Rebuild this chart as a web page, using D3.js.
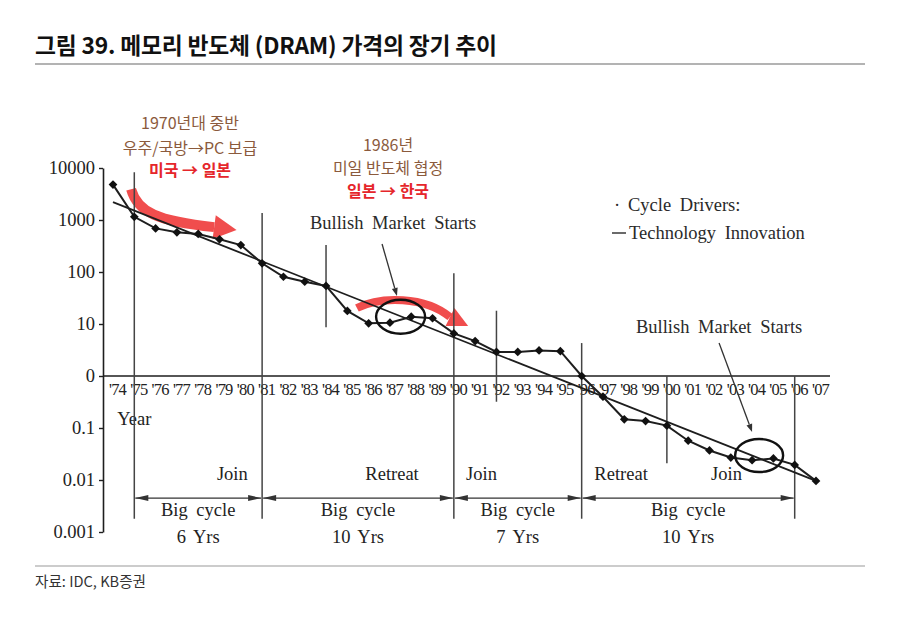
<!DOCTYPE html>
<html><head><meta charset="utf-8">
<script src="https://cdn.jsdelivr.net/npm/d3@7"></script>
<style>body{margin:0;background:#fff;} svg{display:block;}</style>
</head><body><svg id="c" width="900" height="623"></svg>
<script>
// ---------- data ----------
const years = [1974,1975,1976,1977,1978,1979,1980,1981,1982,1983,1984,1985,1986,1987,1988,1989,1990,
               1991,1992,1993,1994,1995,1996,1997,1998,1999,2000,2001,2002,2003,2004,2005,2006,2007];
const xLabels = ["'74","'75","'76","'77","'78","'79","'80","'81","'82","'83","'84","'85","'86","'87","'88","'89","'90",
                 "'91","'92","'93","'94","'95","'96","'97","'98","'99","'00","'01","'02","'03","'04","'05","'06","'07"];
const prices = [4800,1150,690,580,540,425,330,147,81,65,54,17.8,10.3,10.6,13.8,12.9,6.6,
                4.7,2.9,2.9,3.1,3.0,1.0,0.40,0.147,0.136,0.111,0.057,0.037,0.027,0.024,0.026,0.0195,0.0096];
const trendYears = [1974, 2007];
const trendValues = [2200, 0.0096];
const yTickValues = [10000,1000,100,10,1,0.1,0.01,0.001];
const yTickLabels = ["10000","1000","100","10","0","0.1","0.01","0.001"];
// vertical cycle lines: year, top value, bottom value
const cycleLineYears = [1975,1981,1984,1990,1992,1996,2000,2006];
const cycleLineTops  = [8300,1360,330,95,18,4.3,1.0,1.0];
const cycleLineBots  = [0.0018,0.0018,8.7,0.0018,0.32,0.0018,0.021,0.0018];
// big cycles
const cycleStarts = [1975,1981,1990,1996];
const cycleEnds   = [1981,1990,1996,2006];
const cycleYrs    = ["6 Yrs","10 Yrs","7 Yrs","10 Yrs"];
// phase labels
const phaseNames = ["Join","Retreat","Join","Retreat","Join"];
const phaseYears = [1979.6,1987.1,1991.3,1997.85,2002.8];

const title = "그림 39. 메모리 반도체 (DRAM) 가격의 장기 추이";
const source = "자료: IDC, KB증권";

// ---------- setup ----------
const svg = d3.select("#c");
const serif = "'Liberation Serif','Times New Roman',serif";
const kr = "'Noto Sans CJK KR','Noto Sans',sans-serif";
const ink = "#1e1e1e";

const x = d3.scaleLinear().domain([1974,2007]).range([113,816]);
const y = d3.scaleLog().domain([0.001,10000]).range([532,168]);
const axisX = 103;

// title & rules
svg.append("text").attr("x",35).attr("y",54).text(title)
  .attr("font-family",kr).attr("font-weight",700).attr("font-size",22.8).attr("letter-spacing","-0.2px").attr("fill","#111");
svg.append("line").attr("x1",35).attr("x2",865).attr("y1",64).attr("y2",64)
  .attr("stroke","#9a9a9a").attr("stroke-width",1.5);
svg.append("line").attr("x1",35).attr("x2",865).attr("y1",566).attr("y2",566)
  .attr("stroke","#9a9a9a").attr("stroke-width",1.2);
svg.append("text").attr("x",35).attr("y",587).text(source)
  .attr("font-family",kr).attr("font-size",14.6).attr("fill","#333");

const g = svg.append("g");

// ---------- red arrows (beneath) ----------
function redArrow(pts, tip, hw, sw){
  const P = pts.map(p=>[x(p[0]), y(p[1])]);
  const T = [x(tip[0]), y(tip[1])];
  const last = P[P.length-1];
  const dx = T[0]-last[0], dy = T[1]-last[1], L = Math.hypot(dx,dy);
  const ux = dx/L, uy = dy/L;
  const grp = g.append("g").attr("opacity",0.88);
  grp.append("path")
    .attr("d", `M${P[0]}C${P[1]} ${P[2]} ${P[3]}`)
    .attr("fill","none").attr("stroke","#ef3535").attr("stroke-width",sw);
  const b1 = [last[0]-uy*hw, last[1]+ux*hw], b2 = [last[0]+uy*hw, last[1]-ux*hw];
  grp.append("path").attr("d",`M${b1}L${T}L${b2}Z`).attr("fill","#ef3535");
}
redArrow([[1974.85,3900],[1975.15,1400],[1976.1,950],[1978.75,730]],[1979.8,640],12,10);
redArrow([[1985.45,20.3],[1986.55,34.5],[1988.65,34.5],[1989.82,13.6]],[1990.67,9.15],10,8);

// ---------- axes ----------
const yAxis = g.append("g").attr("transform",`translate(${axisX},0)`)
  .call(d3.axisLeft(y).tickValues(yTickValues).tickFormat((d,i)=>yTickLabels[i])
        .tickSize(4).tickSizeOuter(0).tickPadding(4));
yAxis.select(".domain").attr("stroke",ink).attr("stroke-width",1.6);
yAxis.selectAll(".tick line").attr("stroke",ink).attr("stroke-width",1.4);
yAxis.selectAll("text").attr("font-family",serif).attr("font-size",18.5).attr("fill","#222");

const xAxis = g.append("g").attr("transform",`translate(0,${y(1)})`)
  .call(d3.axisBottom(x).tickValues(years).tickFormat((d,i)=>xLabels[i]).tickSize(0).tickPadding(7));
xAxis.select(".domain").remove();
xAxis.append("line").attr("x1",axisX).attr("x2",x(2007)+14).attr("y1",0).attr("y2",0)
  .attr("stroke",ink).attr("stroke-width",1.4);
xAxis.selectAll("text").attr("dx",4).attr("font-family",serif).attr("font-size",16.5)
  .attr("letter-spacing","-0.8px").attr("fill","#222");

g.append("text").attr("x",x(1975)).attr("y",425).attr("text-anchor","middle")
  .attr("font-family",serif).attr("font-size",18.5).attr("fill","#222").text("Year");

// ---------- vertical cycle lines ----------
g.selectAll(".cl").data(cycleLineYears).join("line")
  .attr("x1",d=>x(d)).attr("x2",d=>x(d))
  .attr("y1",(d,i)=>y(cycleLineTops[i])).attr("y2",(d,i)=>y(cycleLineBots[i]))
  .attr("stroke","#444").attr("stroke-width",1.5);

// ---------- trend & data lines ----------
g.append("path").datum(trendYears.map((d,i)=>[d,trendValues[i]]))
  .attr("d", d3.line().x(d=>x(d[0])).y(d=>y(d[1])))
  .attr("fill","none").attr("stroke",ink).attr("stroke-width",1.8);
const series = years.map((d,i)=>[d,prices[i]]);
g.append("path").datum(series)
  .attr("d", d3.line().x(d=>x(d[0])).y(d=>y(d[1])))
  .attr("fill","none").attr("stroke",ink).attr("stroke-width",2);
g.selectAll(".pt").data(series).join("path")
  .attr("transform",d=>`translate(${x(d[0])},${y(d[1])}) rotate(45)`)
  .attr("d", d3.symbol(d3.symbolSquare, 38)())
  .attr("fill","#111");

// ---------- big cycle arrows ----------
const arrowY = y(0.0045);
cycleStarts.forEach((s,i)=>{
  const x0 = x(s)+1, x1 = x(cycleEnds[i])-1;
  g.append("line").attr("x1",x0).attr("x2",x1).attr("y1",arrowY).attr("y2",arrowY)
    .attr("stroke","#333").attr("stroke-width",1.3);
  g.append("path").attr("d",`M${x0},${arrowY}L${x0+13},${arrowY-3}L${x0+13},${arrowY+3}Z`).attr("fill","#333");
  g.append("path").attr("d",`M${x1},${arrowY}L${x1-13},${arrowY-3}L${x1-13},${arrowY+3}Z`).attr("fill","#333");
  const cx = (x(s)+x(cycleEnds[i]))/2;
  g.append("text").attr("x",cx).attr("y",516).attr("text-anchor","middle")
    .attr("font-family",serif).attr("font-size",18.5).attr("word-spacing","4px").attr("fill","#222").text("Big cycle");
  g.append("text").attr("x",cx).attr("y",543).attr("text-anchor","middle")
    .attr("font-family",serif).attr("font-size",18.5).attr("word-spacing","3px").attr("fill","#222").text(cycleYrs[i]);
});
phaseNames.forEach((n,i)=>{
  g.append("text").attr("x",x(phaseYears[i])).attr("y",480).attr("text-anchor","middle")
    .attr("font-family",serif).attr("font-size",18.5).attr("fill","#222").text(n);
});

// ---------- annotations ----------
function blackArrow(a,b){
  const A=[x(a[0]),y(a[1])], B=[x(b[0]),y(b[1])];
  const dx=B[0]-A[0], dy=B[1]-A[1], L=Math.hypot(dx,dy), ux=dx/L, uy=dy/L;
  const base=[B[0]-ux*8, B[1]-uy*8];
  g.append("line").attr("x1",A[0]).attr("y1",A[1]).attr("x2",base[0]).attr("y2",base[1])
    .attr("stroke","#333").attr("stroke-width",1.3);
  g.append("path").attr("d",`M${B}L${[base[0]-uy*3,base[1]+ux*3]}L${[base[0]+uy*3,base[1]-ux*3]}Z`).attr("fill","#333");
}
blackArrow([1986.63,345],[1987.33,34.6]);
blackArrow([2002.45,4.3],[2004.0,0.084]);
g.append("ellipse").attr("cx",x(1987.5)).attr("cy",y(13.8)).attr("rx",24.5).attr("ry",17)
  .attr("fill","none").attr("stroke","#111").attr("stroke-width",2.4);
g.append("ellipse").attr("cx",x(2004.33)).attr("cy",y(0.0296)).attr("rx",24).attr("ry",16.5)
  .attr("fill","none").attr("stroke","#111").attr("stroke-width",2.4);

const bullStyle = t=>t.attr("font-family",serif).attr("font-size",18.5).attr("word-spacing","4px").attr("fill","#2a2a2a");
g.append("text").attr("x",310).attr("y",229).text("Bullish Market Starts").call(bullStyle);
g.append("text").attr("x",636).attr("y",333).text("Bullish Market Starts").call(bullStyle);

const legStyle = t=>t.attr("font-family",serif).attr("font-size",18.5).attr("word-spacing","4px").attr("fill","#2a2a2a");
g.append("text").attr("x",614).attr("y",211).text("·").call(legStyle);
g.append("text").attr("x",628).attr("y",211).text("Cycle Drivers:").call(legStyle);
g.append("line").attr("x1",612).attr("x2",626).attr("y1",233).attr("y2",233).attr("stroke","#2a2a2a").attr("stroke-width",1.4);
g.append("text").attr("x",629).attr("y",239).text("Technology Innovation").call(legStyle);

// Korean annotations
const brown = "#8b5a3c", red = "#e5262b";
function krText(txt,cx,by,color,bold){
  g.append("text").attr("x",cx).attr("y",by).attr("text-anchor","middle")
    .attr("font-family",kr).attr("font-size",16).attr("font-weight",bold?700:400)
    .attr("fill",color).text(txt);
}
krText("1970년대 중반",190,129,brown,false);
krText("우주/국방→PC 보급",190,154,brown,false);
krText("미국 → 일본",190,176,red,true);
krText("1986년",388,151,brown,false);
krText("미일 반도체 협정",388,174,brown,false);
krText("일본 → 한국",388,197,red,true);
</script></body></html>
